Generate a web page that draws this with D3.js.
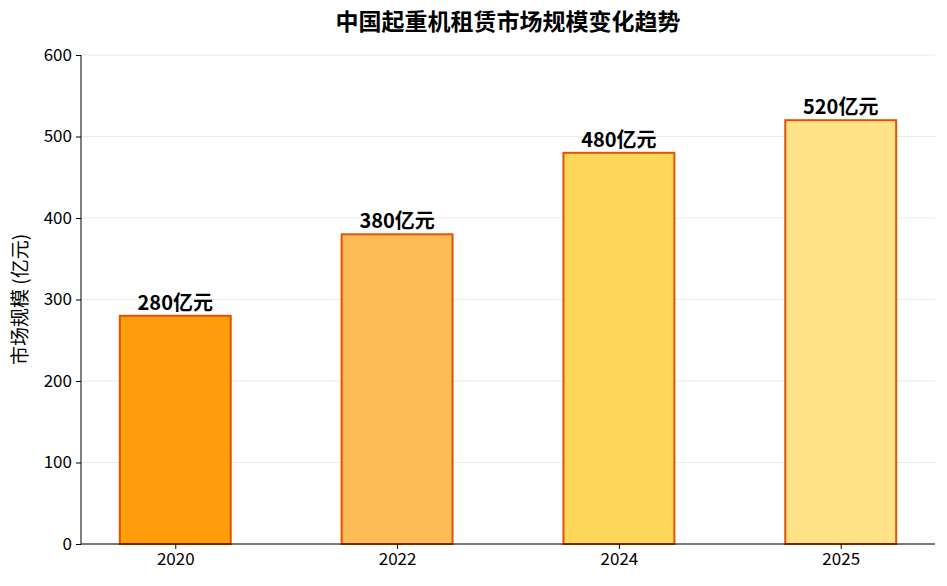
<!DOCTYPE html>
<html><head><meta charset="utf-8">
<script src="https://cdn.jsdelivr.net/npm/d3@7/dist/d3.min.js"></script>
<style>body{margin:0;background:#fff;} text{font-family:"Noto Sans CJK SC","Noto Sans",sans-serif;}</style>
</head><body>
<svg id="c" width="947" height="586"></svg>
<script>
const categories = ["2020","2022","2024","2025"];
const values = [280,380,480,520];
const labels = ["280亿元","380亿元","480亿元","520亿元"];
const colors = ["#FF9800","#FFB74D","#FFD54F","#FFE082"];
const yTicks = [0,100,200,300,400,500,600];
const title = "中国起重机租赁市场规模变化趋势";
const yLabel = "市场规模 (亿元)";

const svg = d3.select("#c");
const L=81, R=935, T=55, B=544;
const x = d3.scaleLinear().domain([-0.425, 3.425]).range([L,R]);
const y = d3.scaleLinear().domain([0,600]).range([B,T]);
const bw = x(0.5)-x(0);

svg.append("g").selectAll("line").data(yTicks).join("line")
  .attr("x1",L).attr("x2",R).attr("y1",d=>y(d)).attr("y2",d=>y(d))
  .attr("stroke","#e6e6e6").attr("stroke-width",0.8);

svg.append("g").selectAll("rect").data(values).join("rect")
  .attr("x",(d,i)=>x(i)-bw/2).attr("width",bw)
  .attr("y",d=>y(d)).attr("height",d=>B-y(d))
  .attr("fill",(d,i)=>colors[i]).attr("fill-opacity",0.95)
  .attr("stroke","#E65100").attr("stroke-width",2);

svg.append("g").selectAll("text").data(values).join("text")
  .attr("x",(d,i)=>x(i)).attr("y",d=>y(d)-6)
  .attr("text-anchor","middle").style("font-size","20px").style("font-weight","bold")
  .attr("fill","#000").text((d,i)=>labels[i]);

const ya = svg.append("g").attr("transform",`translate(${L},0)`)
  .call(d3.axisLeft(y).tickValues(yTicks).tickSize(5).tickPadding(4));
ya.attr("font-size",null).attr("font-family",null);
ya.select(".domain").attr("stroke","#000").attr("d",`M0,${B}V${T}`);
ya.selectAll("text").style("font-size","17px").attr("fill","#000");

const xa = svg.append("g").attr("transform",`translate(0,${B})`)
  .call(d3.axisBottom(x).tickValues([0,1,2,3]).tickFormat(i=>categories[i]).tickSize(5).tickPadding(4));
xa.attr("font-size",null).attr("font-family",null);
xa.select(".domain").attr("stroke","#000").attr("d",`M${L},0H${R}`);
xa.selectAll("text").style("font-size","17px").attr("fill","#000");

svg.append("text").attr("x",508).attr("y",30).attr("text-anchor","middle")
  .style("font-size","23px").style("font-weight","bold").text(title);
svg.append("text").attr("transform",`translate(27,${(T+B)/2}) rotate(-90)`)
  .attr("text-anchor","middle").style("font-size","19px").text(yLabel);
</script>
</body></html>
